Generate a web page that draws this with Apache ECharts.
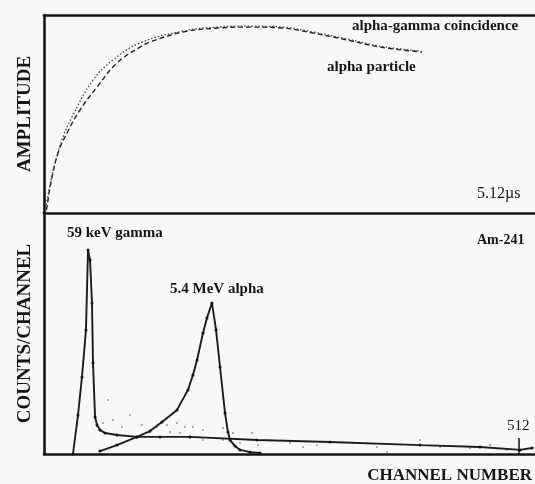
<!DOCTYPE html>
<html>
<head>
<meta charset="utf-8">
<script src="https://cdn.jsdelivr.net/npm/echarts@6/dist/echarts.min.js"></script>
<style>
  html, body { margin: 0; padding: 0; background: #f8f8f8; }
  #chart { width: 535px; height: 484px; }
</style>
</head>
<body>
<div id="chart"></div>
<script>
// Pulse shapes (time in microseconds, normalised amplitude)
const alphaPulse = [
  [0.02, 0.015], [0.031, 0.03], [0.063, 0.131], [0.146, 0.303], [0.24, 0.404],
  [0.375, 0.52], [0.553, 0.636], [0.761, 0.758], [1.001, 0.838], [1.105, 0.864],
  [1.449, 0.914], [1.804, 0.934], [2.148, 0.939], [2.492, 0.934], [2.805, 0.909],
  [3.16, 0.874], [3.504, 0.838], [3.942, 0.813]
];
const coincidencePulse = [
  [0.02, 0.025], [0.063, 0.141], [0.125, 0.268], [0.198, 0.384], [0.292, 0.485],
  [0.511, 0.672], [0.72, 0.773], [1.001, 0.859], [1.449, 0.919], [1.804, 0.939],
  [2.148, 0.944], [2.492, 0.939], [2.805, 0.914], [3.16, 0.879], [3.504, 0.843],
  [3.921, 0.818]
];

// Am-241 spectrum (channel, counts)
const gammaSpectrum = [
  [31.3, 0], [36.7, 162], [41.0, 320], [45.3, 515], [47.5, 846], [49.7, 805],
  [51.8, 627], [52.9, 378], [55.1, 154], [57.2, 120], [60.4, 100], [65.8, 87],
  [78.8, 79], [100.4, 71], [125.2, 71], [157.6, 71], [229.9, 58], [308.7, 50],
  [405.9, 37], [470.6, 29], [513.8, 17], [526.8, 25]
];
const alphaSpectrum = [
  [60.4, 12], [78.8, 37], [100.4, 71], [114.4, 95], [127.4, 133], [143.6, 183],
  [155.4, 266], [160.8, 328], [165.2, 390], [171.6, 502], [175.9, 564], [181.3, 627],
  [185.7, 515], [190.0, 361], [195.4, 170], [198.6, 91], [200.8, 58], [206.2, 33],
  [211.6, 17], [222.4, 8], [233.2, 4]
];
const backgroundCounts = [
  [69.1, 224], [74.5, 141], [63.7, 129], [92.8, 162], [84.2, 112], [105.8, 120],
  [122.0, 112], [132.8, 120], [143.6, 129], [152.2, 112], [114.4, 91], [136.0, 91],
  [146.8, 87], [160.8, 112], [171.6, 100], [193.2, 108], [204.0, 87], [224.5, 87],
  [171.6, 58], [193.2, 58], [211.6, 46], [231.0, 37], [265.5, 46], [279.6, 29],
  [294.7, 37], [333.5, 46], [359.5, 29], [370.3, 8], [405.9, 58], [427.5, 29],
  [459.8, 25], [481.4, 37], [499.8, 17]
];
const channelTicks = [512];

const SERIF = '"Liberation Serif", "Times New Roman", serif';
const INK = '#151515';

const chart = echarts.init(document.getElementById('chart'), null, { renderer: 'canvas' });

const frameLine = { show: true, onZero: false, lineStyle: { color: INK, width: 2.6 } };
const hiddenAxisBits = {
  axisTick: { show: false }, axisLabel: { show: false }, splitLine: { show: false }
};
const titleStyle = { fontFamily: SERIF, fontSize: 19, fontWeight: 'bold', color: INK };

chart.setOption({
  backgroundColor: '#f8f8f8',
  animation: false,
  grid: [
    { left: 44, top: 15, right: 0, height: 198 },
    { left: 44, top: 213, right: 0, height: 241 }
  ],
  xAxis: [
    Object.assign({ type: 'value', gridIndex: 0, position: 'top', min: 0, max: 5.12,
      axisLine: frameLine }, hiddenAxisBits),
    Object.assign({ type: 'value', gridIndex: 0, position: 'bottom', min: 0, max: 5.12,
      axisLine: frameLine }, hiddenAxisBits),
    {
      type: 'value', gridIndex: 1, position: 'bottom', min: 0, max: 530,
      axisLine: frameLine,
      axisTick: { show: true, inside: true, length: 16, customValues: channelTicks,
        lineStyle: { color: INK, width: 1.5 } },
      axisLabel: { show: true, inside: true, margin: 20, customValues: channelTicks,
        fontFamily: SERIF, fontSize: 15, color: INK },
      splitLine: { show: false },
      name: 'CHANNEL NUMBER', nameLocation: 'end', nameGap: 0,
      nameTextStyle: { fontFamily: SERIF, fontSize: 17, fontWeight: 'bold', color: INK,
        align: 'right', verticalAlign: 'top', padding: [13, 3, 0, 0] }
    }
  ],
  yAxis: [
    Object.assign({ type: 'value', gridIndex: 0, min: 0, max: 1, axisLine: frameLine,
      name: 'AMPLITUDE', nameLocation: 'middle', nameGap: 9, nameRotate: 90,
      nameTextStyle: titleStyle }, hiddenAxisBits),
    Object.assign({ type: 'value', gridIndex: 1, min: 0, max: 1000, axisLine: frameLine,
      name: 'COUNTS/CHANNEL', nameLocation: 'middle', nameGap: 9, nameRotate: 90,
      nameTextStyle: titleStyle }, hiddenAxisBits)
  ],
  series: [
    {
      name: 'alpha particle', type: 'line', xAxisIndex: 0, yAxisIndex: 0,
      data: alphaPulse, smooth: 0.4, showSymbol: false,
      lineStyle: { color: '#222', width: 1.4, type: [5, 3] }
    },
    {
      name: 'alpha-gamma coincidence', type: 'line', xAxisIndex: 0, yAxisIndex: 0,
      data: coincidencePulse, smooth: 0.4, showSymbol: false,
      lineStyle: { color: '#444', width: 1.3, type: [1.5, 2] }
    },
    {
      name: 'background', type: 'scatter', xAxisIndex: 2, yAxisIndex: 1,
      data: backgroundCounts, symbolSize: 2,
      itemStyle: { color: 'rgba(70,70,70,0.7)' }
    },
    {
      name: '59 keV gamma', type: 'line', xAxisIndex: 2, yAxisIndex: 1,
      data: gammaSpectrum, showSymbol: true, symbol: 'circle', symbolSize: 3,
      itemStyle: { color: '#111' },
      lineStyle: { color: '#1c1c1c', width: 1.9 }
    },
    {
      name: '5.4 MeV alpha', type: 'line', xAxisIndex: 2, yAxisIndex: 1,
      data: alphaSpectrum, showSymbol: true, symbol: 'circle', symbolSize: 3,
      itemStyle: { color: '#111' },
      lineStyle: { color: '#1c1c1c', width: 1.9 }
    }
  ],
  graphic: [
    { type: 'text', left: 352, top: 19, style: { text: 'alpha-gamma coincidence',
      font: 'bold 15px ' + SERIF, fill: INK } },
    { type: 'text', left: 327, top: 60, style: { text: 'alpha particle',
      font: 'bold 15px ' + SERIF, fill: INK } },
    { type: 'text', left: 477, top: 186, style: { text: '5.12\u00b5s',
      font: '16px ' + SERIF, fill: INK } },
    { type: 'text', left: 67, top: 226, style: { text: '59 keV gamma',
      font: 'bold 15px ' + SERIF, fill: INK } },
    { type: 'text', left: 170, top: 282, style: { text: '5.4 MeV alpha',
      font: 'bold 15px ' + SERIF, fill: INK } },
    { type: 'text', left: 477, top: 233, style: { text: 'Am-241',
      font: 'bold 14px ' + SERIF, fill: INK } }
  ]
});
</script>
</body>
</html>
